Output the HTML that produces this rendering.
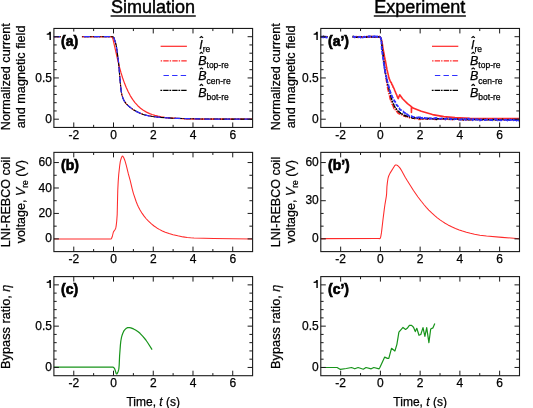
<!DOCTYPE html>
<html><head><meta charset="utf-8"><style>
html,body{margin:0;padding:0;background:#fff;overflow:hidden;}
svg{display:block;will-change:transform;font-family:"Liberation Sans",sans-serif;}
</style></head><body>
<svg width="533" height="408" viewBox="0 0 533 408">
<rect width="533" height="408" fill="#fff"/>
<path d="M53.90,36.70 L111.92,36.73 L112.32,37.20 L113.11,39.53 L117.88,60.92 L119.47,67.23 L121.06,72.91 L122.65,78.00 L124.64,83.59 L126.23,87.52 L128.21,91.84 L130.20,95.57 L132.59,99.39 L134.97,102.59 L137.75,105.68 L140.53,108.19 L143.31,110.24 L146.49,112.12 L149.67,113.61 L152.06,114.51 L154.84,115.38 L158.02,116.18 L161.20,116.82 L164.77,117.37 L168.35,117.80 L177.09,118.47 L187.03,118.85 L200.54,119.07 L252.60,119.20" fill="none" stroke="#ff2a2a" stroke-width="1.2" stroke-linejoin="round" />
<path d="M53.90,36.70 L111.49,36.70 L112.81,36.78 L113.47,36.96 L113.96,37.99 L115.44,42.49 L116.09,45.00 L116.59,47.66 L118.56,62.23 L120.04,79.84 L121.02,90.10 L121.85,94.64 L122.67,97.44 L123.65,99.82 L124.80,101.87 L126.28,103.82 L128.09,105.63 L131.38,108.35 L133.84,110.08 L137.13,111.84 L140.58,113.42 L143.21,114.42 L145.68,115.16 L148.80,115.82 L152.41,116.43 L156.19,116.92 L160.63,117.34 L173.12,118.22 L185.35,118.64 L205.73,119.02 L252.60,119.20" fill="none" stroke="#ff2a2a" stroke-width="1.1" stroke-dasharray="1.4 1.2 5.4 1.0" stroke-linejoin="round"  stroke-dashoffset="3"/>
<path d="M53.90,36.70 L111.49,36.70 L112.81,36.78 L113.47,36.96 L113.96,37.99 L115.44,42.49 L116.09,45.00 L116.59,47.66 L118.56,62.23 L120.04,79.84 L121.02,90.10 L121.85,94.64 L122.67,97.44 L123.65,99.82 L124.80,101.87 L126.28,103.82 L128.09,105.63 L131.38,108.35 L133.84,110.08 L137.13,111.84 L140.58,113.42 L143.21,114.42 L145.68,115.16 L148.80,115.82 L152.41,116.43 L156.19,116.92 L160.63,117.34 L173.12,118.22 L185.35,118.64 L205.73,119.02 L252.60,119.20" fill="none" stroke="#000" stroke-width="1.1" stroke-dasharray="1.8 1.0 5.4 0.8" stroke-linejoin="round" />
<path d="M53.90,36.70 L111.49,36.70 L112.81,36.78 L113.47,36.96 L113.96,37.99 L115.44,42.49 L116.09,45.00 L116.59,47.66 L118.56,62.23 L120.04,79.84 L121.02,90.10 L121.85,94.64 L122.67,97.44 L123.65,99.82 L124.80,101.87 L126.28,103.82 L128.09,105.63 L131.38,108.35 L133.84,110.08 L137.13,111.84 L140.58,113.42 L143.21,114.42 L145.68,115.16 L148.80,115.82 L152.41,116.43 L156.19,116.92 L160.63,117.34 L173.12,118.22 L185.35,118.64 L205.73,119.02 L252.60,119.20" fill="none" stroke="#3030ff" stroke-width="1.25" stroke-dasharray="6 4" stroke-linejoin="round" />
<path d="M53.90,238.90 L110.00,238.90 L110.59,238.97 L111.10,238.90 L111.46,238.52 L112.30,236.50 L113.32,232.25 L113.60,231.60 L114.96,229.76 L115.60,228.50 L115.94,227.17 L116.19,225.60 L116.71,221.22 L117.20,214.36 L117.75,190.76 L118.18,181.88 L118.72,174.55 L119.68,165.76 L120.29,161.69 L120.70,160.00 L121.54,157.44 L122.17,156.28 L122.50,156.10 L122.83,156.25 L123.53,157.30 L124.60,159.80 L125.15,161.35 L126.28,165.45 L128.36,173.97 L130.24,180.52 L132.25,189.08 L133.38,193.35 L136.04,201.25 L137.32,204.49 L138.45,207.00 L140.03,209.99 L142.15,213.42 L144.08,216.15 L146.19,218.75 L148.50,221.20 L151.42,223.88 L154.04,225.97 L156.85,227.93 L159.25,229.37 L162.35,230.96 L165.28,232.20 L169.06,233.52 L173.05,234.68 L177.80,235.83 L183.15,236.89 L187.20,237.48 L190.58,237.79 L193.95,237.98 L213.68,238.56 L232.79,238.83 L252.60,238.90" fill="none" stroke="#ff2a2a" stroke-width="1.05" stroke-linejoin="round" />
<path d="M53.90,367.20 L113.20,367.20 L113.87,367.68 L114.50,368.50 L115.04,369.84 L116.07,373.28 L116.33,373.80 L116.60,374.00 L116.92,373.86 L117.60,372.85 L118.23,371.26 L118.62,369.94 L118.90,368.33 L119.19,365.05 L119.59,355.94 L120.39,345.16 L120.83,341.00 L121.50,337.40 L122.11,335.20 L122.81,333.19 L123.63,331.44 L124.26,330.44 L125.15,329.38 L126.35,328.32 L127.01,327.93 L127.73,327.65 L128.50,327.50 L129.58,327.55 L130.81,327.83 L133.51,328.93 L135.54,330.03 L137.40,331.20 L138.48,331.98 L140.00,333.29 L142.86,336.30 L145.86,340.00 L147.73,342.73 L152.10,349.60" fill="none" stroke="#17941a" stroke-width="1.2" stroke-linejoin="round" />
<path d="M320.80,36.90 L321.37,36.97 L322.80,36.68 L323.03,36.79 L323.30,36.65 L323.92,37.24 L324.27,36.78 L324.66,36.74 L325.07,37.02 L325.99,36.93 L326.48,36.67 L327.55,37.07 L328.11,36.56 L328.70,36.79 L329.32,36.42 L329.95,36.58 L330.61,36.44 L331.28,36.84 L331.97,36.58 L332.68,36.97 L333.41,36.94 L334.16,36.85 L334.91,36.27 L335.69,36.77 L336.48,36.89 L337.28,36.93 L338.09,36.52 L338.92,36.78 L339.75,36.66 L340.60,36.70 L341.45,37.17 L342.31,36.70 L344.06,37.12 L344.94,36.75 L346.71,36.93 L347.61,36.92 L348.50,36.59 L350.30,37.24 L351.20,36.51 L352.10,37.11 L353.89,36.74 L354.78,37.40 L355.66,37.09 L356.54,36.60 L357.42,36.92 L358.29,37.04 L359.15,36.85 L360.00,37.07 L360.85,36.88 L362.51,37.26 L363.32,36.73 L364.12,36.95 L364.91,36.78 L365.69,36.93 L366.44,36.60 L367.92,36.85 L368.63,37.12 L369.32,37.19 L369.99,36.57 L370.65,36.70 L371.28,37.06 L371.90,36.40 L372.49,36.78 L373.05,36.88 L373.60,37.21 L374.61,36.82 L375.53,36.84 L375.94,37.28 L376.33,36.79 L376.68,36.82 L377.01,36.99 L377.57,36.85 L377.80,36.62 L378.69,36.83 L379.29,36.66 L379.80,37.19 L380.35,37.56 L380.80,38.13 L381.20,39.17 L381.41,39.50 L381.90,41.85 L382.03,42.14 L382.16,43.33 L382.42,44.15 L382.90,48.09 L383.01,48.01 L383.30,50.12 L384.17,54.30 L384.58,56.99 L385.20,59.97 L385.36,60.33 L385.67,62.55 L385.82,62.72 L385.96,64.23 L386.10,64.31 L386.23,65.62 L386.35,65.86 L386.47,66.86 L386.57,67.22 L386.65,67.26 L386.91,69.40 L387.43,71.28 L387.57,72.42 L387.72,72.67 L388.41,75.38 L388.60,76.75 L388.79,77.11 L388.99,78.09 L390.22,81.13 L390.90,82.32 L391.25,82.67 L391.60,83.44 L391.95,84.71 L392.30,84.83 L392.58,85.33 L393.15,87.22 L393.44,87.16 L393.73,88.14 L394.31,89.11 L394.60,90.40 L395.44,91.99 L395.70,92.91 L396.00,93.36 L396.28,94.13 L396.84,95.17 L397.11,96.46 L397.38,96.64 L397.65,97.48 L398.20,98.59 L399.70,94.80 L402.60,98.70 L407.50,103.60 L411.40,106.60 L411.40,112.50 L411.60,106.80 L413.00,108.00 L421.30,111.30 L432.50,114.60 L443.80,116.60 L455.00,117.60 L470.00,118.20 L519.50,118.60" fill="none" stroke="#ff2a2a" stroke-width="1.6" stroke-linejoin="round" />
<path d="M320.80,36.75 L321.37,37.09 L321.93,36.81 L322.80,36.85 L323.03,36.91 L323.30,37.25 L323.92,37.01 L324.66,36.49 L325.07,37.18 L325.52,37.19 L325.99,36.86 L326.48,37.06 L328.11,37.18 L328.70,36.76 L329.32,37.35 L329.95,36.53 L330.61,37.16 L331.28,37.05 L331.97,37.16 L332.68,37.46 L333.41,37.35 L334.16,36.56 L334.91,36.39 L335.69,37.15 L336.48,36.60 L338.09,37.15 L338.92,36.41 L339.75,36.27 L340.60,36.98 L342.31,36.83 L343.18,36.91 L344.94,36.45 L345.82,36.85 L347.61,36.41 L348.50,37.05 L349.40,36.88 L350.30,37.02 L351.20,36.60 L352.10,36.70 L352.99,36.60 L353.89,36.63 L354.78,36.96 L355.66,36.67 L356.54,37.01 L357.42,37.00 L358.29,37.51 L359.15,36.48 L360.00,37.17 L360.85,36.87 L361.68,36.90 L362.51,36.47 L364.12,37.12 L364.91,36.88 L365.69,36.92 L366.44,36.81 L367.19,37.25 L367.92,36.89 L368.63,36.24 L369.32,36.69 L370.65,35.92 L371.28,36.74 L371.90,37.30 L373.05,36.55 L373.60,36.62 L374.12,37.24 L374.61,36.95 L375.53,36.88 L375.94,36.91 L376.33,37.14 L377.01,36.96 L377.30,36.59 L377.57,37.05 L377.80,36.69 L378.70,37.16 L379.30,36.38 L379.80,36.86 L380.68,37.72 L381.00,39.52 L381.15,39.98 L381.28,40.04 L381.48,41.73 L381.55,41.59 L381.62,43.19 L382.18,48.82 L382.25,48.78 L382.40,49.74 L382.49,51.48 L383.68,61.22 L383.75,62.53 L383.97,63.68 L384.13,65.67 L384.50,68.01 L384.56,67.88 L385.12,72.46 L385.23,72.68 L385.74,75.78 L385.99,78.38 L386.12,78.53 L386.48,81.09 L386.60,81.35 L387.26,86.86 L387.40,86.94 L387.57,87.36 L387.78,89.18 L387.90,89.58 L388.03,89.60 L388.48,91.95 L389.80,97.10 L390.22,99.22 L390.67,100.17 L390.90,100.37 L391.13,101.69 L391.36,101.66 L391.83,103.75 L392.06,104.28 L392.63,104.79 L392.96,105.86 L393.30,106.43 L394.00,108.56 L394.36,108.54 L394.73,108.81 L395.11,109.25 L395.50,110.12 L395.91,110.59 L396.33,110.79 L396.77,111.65 L397.22,111.72 L397.70,112.83 L398.22,113.24 L398.77,113.64 L399.35,113.55 L399.96,114.19 L400.58,114.33 L401.85,114.86 L402.49,114.84 L403.13,115.06 L403.75,115.97 L404.36,115.91 L405.50,116.70 L406.25,116.16 L407.62,117.18 L408.28,117.43 L408.97,117.36 L409.70,117.95 L410.50,117.86 L411.10,117.55 L411.75,117.74 L412.46,118.36 L413.19,118.36 L413.95,117.75 L414.72,118.82 L415.49,118.68 L416.26,118.98 L417.00,118.54 L417.71,118.63 L418.37,118.44 L418.98,119.59 L419.53,118.81 L420.00,119.38 L420.68,118.74 L421.19,118.98 L422.00,118.43 L422.53,119.23 L422.86,118.56 L423.21,119.27 L423.60,119.05 L424.02,118.64 L424.48,118.81 L425.47,118.96 L426.58,118.74 L427.18,118.91 L427.80,118.70 L428.44,118.63 L429.79,119.30 L430.50,118.59 L431.22,119.06 L432.73,118.79 L433.50,119.35 L434.30,118.94 L435.10,119.56 L435.92,118.89 L436.75,119.25 L438.44,118.93 L439.30,119.35 L440.16,119.14 L441.03,119.38 L442.79,118.89 L443.67,119.20 L444.56,119.26 L445.44,119.54 L446.33,119.00 L447.21,119.27 L448.09,118.78 L448.97,119.50 L449.84,118.99 L450.70,118.79 L451.56,119.32 L452.41,119.69 L453.25,118.91 L454.90,119.17 L455.70,119.06 L456.50,119.52 L457.27,119.18 L458.03,119.22 L458.78,119.62 L459.50,119.23 L460.21,119.59 L460.90,119.18 L462.20,118.94 L462.82,120.06 L463.42,119.41 L463.98,119.59 L464.53,119.51 L465.52,119.55 L465.98,120.12 L466.40,119.24 L466.79,119.09 L467.14,119.26 L467.47,119.16 L467.75,119.79 L468.00,119.82 L468.86,119.30 L469.43,119.18 L470.00,119.49 L470.57,120.02 L471.14,118.76 L472.00,119.76 L472.25,119.28 L472.54,119.91 L472.86,119.28 L473.22,119.51 L473.62,119.15 L474.05,119.31 L474.50,120.02 L474.99,119.85 L475.51,119.48 L476.06,119.34 L476.63,119.03 L477.23,119.48 L477.86,119.59 L479.18,119.57 L479.87,119.26 L480.59,119.58 L481.32,119.59 L482.07,119.99 L482.84,120.16 L483.63,119.56 L484.42,119.37 L485.24,119.58 L486.06,119.42 L486.90,119.38 L487.75,119.58 L488.60,119.29 L489.46,119.78 L490.34,119.57 L491.21,119.68 L493.86,119.32 L494.75,119.53 L495.64,119.44 L496.52,119.67 L497.41,119.60 L498.29,119.19 L499.16,119.62 L500.04,119.20 L501.75,119.51 L502.60,118.98 L503.44,119.63 L506.66,119.49 L507.43,119.31 L508.18,119.52 L508.91,119.43 L509.63,119.63 L510.32,119.24 L510.99,119.67 L512.87,119.47 L513.44,119.77 L513.99,119.10 L514.51,119.74 L515.88,119.71 L516.28,119.40 L516.64,119.52 L516.96,119.79 L517.50,119.66 L518.36,119.15 L518.93,119.76 L519.50,119.95" fill="none" stroke="#ff2a2a" stroke-width="1.5" stroke-dasharray="1.4 1.2 5.4 1.0" stroke-linejoin="round" />
<path d="M320.80,37.20 L321.37,36.97 L321.93,36.43 L322.80,37.18 L323.03,36.86 L323.30,36.14 L323.59,37.01 L323.92,36.45 L324.27,36.51 L324.66,36.71 L325.07,37.28 L325.52,36.79 L325.99,36.98 L326.48,37.42 L327.00,37.38 L327.55,36.87 L328.11,36.83 L328.70,36.52 L329.32,36.69 L329.95,37.03 L331.28,36.93 L331.97,37.20 L332.68,36.67 L334.16,37.12 L334.91,37.08 L335.69,37.22 L337.28,36.81 L338.09,37.01 L338.92,36.60 L339.75,36.41 L340.60,37.07 L341.45,36.88 L342.31,36.99 L343.18,36.39 L344.06,36.79 L345.82,36.64 L346.71,36.22 L347.61,36.80 L348.50,37.17 L349.40,37.01 L350.30,36.72 L352.10,37.13 L352.99,36.07 L353.89,36.86 L354.78,37.06 L355.66,37.10 L356.54,37.41 L358.29,36.99 L359.15,36.99 L360.00,37.14 L360.85,36.74 L361.68,36.89 L363.32,37.49 L364.12,36.85 L365.69,36.96 L366.44,37.30 L367.19,36.89 L367.92,37.34 L368.63,36.61 L369.32,36.84 L369.99,36.84 L370.65,37.14 L371.28,37.21 L371.90,36.45 L372.49,36.63 L373.05,37.00 L374.12,36.44 L374.61,37.21 L375.08,37.05 L375.53,37.05 L375.94,36.76 L376.33,37.21 L376.68,36.83 L377.01,37.23 L377.30,36.63 L377.57,36.64 L377.80,36.96 L378.70,36.62 L379.30,36.97 L379.80,36.98 L380.30,37.11 L381.00,38.89 L381.41,40.75 L381.90,45.46 L382.39,48.45 L382.56,50.47 L383.46,57.15 L383.56,58.58 L383.74,59.51 L383.98,61.85 L384.05,61.69 L384.27,64.78 L384.46,65.39 L384.60,67.06 L384.68,66.96 L384.77,67.56 L385.40,72.56 L385.63,73.77 L385.75,73.70 L385.86,75.22 L386.20,77.20 L386.47,77.92 L386.60,79.23 L387.16,81.66 L387.30,81.71 L387.45,83.41 L387.60,83.77 L387.90,85.59 L388.21,85.76 L388.85,88.88 L389.01,88.90 L389.18,90.25 L389.35,90.34 L389.53,91.54 L390.41,94.54 L390.58,94.89 L391.11,98.02 L391.49,98.99 L391.69,99.25 L391.89,100.54 L392.10,100.74 L392.80,102.63 L393.40,103.95 L393.72,104.33 L394.04,105.20 L394.37,106.64 L394.71,106.56 L395.85,108.60 L396.26,108.62 L397.15,110.30 L398.10,111.06 L398.60,111.96 L399.11,111.75 L399.64,112.43 L400.20,112.68 L400.77,113.69 L401.36,113.06 L401.97,113.83 L402.60,114.24 L403.16,114.90 L403.76,115.18 L404.37,115.70 L405.01,115.08 L405.67,116.04 L406.34,115.98 L407.02,116.11 L407.71,116.70 L409.09,116.34 L409.78,117.05 L410.45,116.89 L411.77,117.77 L412.40,117.89 L413.14,118.42 L414.66,117.70 L415.42,118.01 L416.92,117.99 L417.63,118.52 L418.93,117.86 L419.50,118.68 L420.00,118.47 L420.92,118.64 L422.00,118.57 L422.25,118.73 L422.53,118.56 L422.86,118.93 L423.21,118.69 L424.02,118.70 L424.48,118.15 L424.96,118.55 L425.47,118.53 L426.01,118.68 L426.58,118.22 L427.18,119.13 L428.44,118.31 L429.10,118.17 L429.79,118.61 L430.50,118.68 L431.22,118.51 L431.97,118.77 L432.73,118.56 L433.50,118.94 L434.30,118.57 L435.92,119.11 L436.75,119.61 L437.59,118.55 L438.44,118.73 L439.30,118.63 L440.16,119.14 L441.03,118.58 L442.79,118.95 L443.67,118.68 L444.56,118.70 L445.44,118.87 L446.33,118.40 L448.97,119.12 L449.84,119.04 L450.70,118.58 L452.41,119.39 L453.25,119.33 L454.90,118.93 L455.70,119.40 L456.50,119.06 L457.27,118.89 L458.03,119.02 L458.78,119.71 L459.50,119.36 L460.21,119.65 L460.90,119.17 L461.56,119.61 L462.20,119.16 L462.82,119.31 L463.42,120.11 L464.53,119.24 L465.52,119.51 L465.98,119.78 L466.79,118.91 L467.14,119.36 L467.75,119.49 L468.00,119.86 L469.16,119.58 L470.00,119.74 L470.84,119.18 L472.00,119.77 L472.25,120.14 L472.54,119.75 L472.86,119.59 L473.22,119.57 L473.62,120.06 L474.05,119.25 L474.99,119.67 L475.51,119.76 L476.06,119.41 L476.63,119.63 L477.23,119.46 L477.86,119.58 L478.51,119.51 L479.18,119.21 L480.59,119.83 L481.32,119.28 L482.84,119.78 L483.63,119.26 L484.42,119.64 L485.24,119.27 L486.06,119.94 L486.90,120.30 L487.75,120.21 L488.60,119.55 L489.46,119.84 L490.34,119.66 L491.21,119.66 L492.09,120.10 L492.98,119.24 L493.86,119.96 L494.75,119.64 L495.64,120.08 L497.41,119.46 L498.29,119.75 L499.16,119.90 L500.04,119.69 L500.90,119.83 L501.75,119.54 L502.60,119.06 L503.44,119.97 L505.87,119.74 L506.66,120.03 L507.43,119.59 L508.18,119.52 L508.91,119.68 L509.63,120.10 L510.32,119.33 L510.99,120.11 L511.64,119.56 L512.27,119.43 L512.87,120.14 L513.99,119.38 L515.00,120.05 L515.45,120.13 L515.88,119.65 L516.28,119.90 L516.64,120.00 L516.96,119.59 L517.25,119.89 L517.50,119.78 L518.66,119.63 L519.50,119.65" fill="none" stroke="#000" stroke-width="1.3" stroke-dasharray="1.8 1.0 5.4 0.8" stroke-linejoin="round" />
<path d="M320.80,36.92 L321.37,36.91 L321.93,36.70 L322.80,36.75 L323.03,37.29 L323.30,36.97 L323.59,37.21 L323.92,37.32 L324.27,37.11 L324.66,37.69 L325.07,36.61 L325.52,37.18 L325.99,36.79 L326.48,37.55 L327.00,37.50 L327.55,36.22 L328.11,36.56 L328.70,37.13 L329.95,37.16 L330.61,36.88 L331.97,37.13 L332.68,36.87 L333.41,37.26 L334.16,36.11 L334.91,37.12 L335.69,36.54 L336.48,37.24 L337.28,36.82 L338.09,36.59 L338.92,37.03 L339.75,36.58 L340.60,36.58 L341.45,36.35 L342.31,36.89 L344.06,37.26 L344.94,36.85 L345.82,37.27 L346.71,36.91 L347.61,36.87 L349.40,37.27 L350.30,36.78 L352.99,36.93 L353.89,36.58 L354.78,37.26 L355.66,36.76 L356.54,37.06 L357.42,36.61 L358.29,37.03 L359.15,37.04 L360.00,36.75 L360.85,37.61 L361.68,37.03 L362.51,37.52 L363.32,37.24 L364.12,36.67 L364.91,36.77 L365.69,37.05 L367.92,36.80 L368.63,36.27 L369.32,36.82 L369.99,36.12 L370.65,37.03 L371.28,36.65 L371.90,36.65 L373.05,37.00 L373.60,36.40 L374.12,36.29 L374.61,36.53 L375.08,36.19 L375.53,36.56 L375.94,37.46 L376.33,36.53 L376.68,37.13 L377.01,36.42 L377.30,37.00 L377.57,36.79 L378.70,37.03 L379.30,37.38 L379.80,36.97 L380.68,37.73 L381.00,39.20 L381.12,39.37 L381.31,40.63 L381.39,41.94 L381.46,41.39 L381.78,49.22 L381.82,49.39 L381.86,49.15 L382.07,51.59 L382.19,51.69 L382.39,53.66 L382.56,54.19 L382.77,55.75 L382.88,55.98 L382.99,57.81 L383.11,58.13 L383.35,60.65 L383.47,61.24 L383.59,61.25 L383.82,63.65 L383.93,63.74 L384.14,65.38 L384.23,65.50 L384.31,67.16 L384.39,66.33 L384.67,69.32 L384.95,71.15 L385.05,70.45 L385.15,71.70 L385.54,73.51 L385.69,73.76 L386.00,75.74 L386.35,76.69 L386.53,78.40 L386.71,79.26 L386.90,78.71 L387.28,81.66 L387.47,81.84 L388.04,83.65 L388.41,85.09 L388.59,86.22 L388.76,86.48 L389.10,87.42 L389.25,88.37 L389.40,88.59 L389.89,90.88 L391.28,94.42 L391.53,95.42 L391.80,95.42 L392.10,96.95 L392.72,97.56 L393.37,98.89 L393.72,99.83 L394.07,100.17 L394.43,101.46 L395.15,101.50 L395.50,102.63 L395.86,102.78 L396.60,105.03 L396.99,105.47 L397.39,105.35 L397.81,106.12 L398.24,107.57 L398.70,107.61 L399.17,108.03 L400.15,109.94 L401.20,110.15 L402.30,111.31 L402.87,111.35 L403.44,111.66 L404.02,112.49 L404.60,112.57 L405.18,113.28 L405.76,113.73 L406.35,114.91 L406.95,114.16 L407.55,114.78 L408.17,115.11 L409.43,116.17 L410.07,115.92 L410.73,116.07 L411.40,116.03 L412.03,116.47 L412.70,117.16 L413.41,117.15 L414.14,116.92 L416.35,117.79 L417.06,117.50 L417.75,117.69 L418.39,117.21 L418.99,117.50 L419.53,118.52 L420.00,117.23 L420.67,117.93 L421.19,118.13 L422.00,117.93 L422.25,117.78 L422.53,118.05 L423.21,118.07 L423.60,117.45 L424.02,118.07 L424.48,117.84 L424.96,117.96 L425.47,118.24 L426.58,118.51 L427.18,118.04 L427.79,118.56 L429.79,118.78 L430.50,118.26 L431.22,118.28 L431.97,118.65 L432.73,117.90 L433.50,118.48 L434.30,118.24 L435.10,118.32 L435.92,117.87 L438.44,118.86 L439.30,118.93 L440.16,118.58 L441.03,118.56 L441.91,118.37 L442.79,118.82 L443.67,118.62 L445.44,119.38 L447.21,118.29 L448.09,118.54 L448.97,118.36 L449.84,118.48 L450.70,119.38 L451.56,119.03 L452.41,118.44 L453.25,119.23 L454.08,119.46 L454.90,118.92 L455.70,118.83 L458.78,119.58 L460.90,119.70 L461.56,119.48 L462.21,118.73 L462.82,119.24 L463.42,119.41 L463.99,119.19 L464.53,119.65 L465.04,119.23 L465.52,119.04 L465.98,119.88 L466.79,119.48 L467.14,119.74 L467.47,119.80 L467.75,119.55 L468.00,118.58 L468.86,119.23 L469.43,119.33 L470.00,119.16 L471.14,119.93 L472.25,119.13 L472.54,120.24 L472.86,119.37 L473.22,119.10 L473.62,119.62 L474.05,119.69 L474.50,119.30 L474.99,119.83 L475.51,119.39 L476.06,119.24 L476.63,119.63 L477.23,119.84 L477.86,119.36 L478.51,119.70 L479.18,119.56 L479.87,120.59 L480.59,119.36 L481.32,120.10 L482.07,119.60 L482.84,119.59 L483.63,119.89 L485.24,120.10 L486.90,119.46 L487.75,119.49 L488.60,119.87 L489.46,119.90 L490.34,120.19 L491.21,119.86 L492.98,120.26 L494.75,119.23 L495.64,119.35 L496.52,119.26 L497.41,120.33 L498.29,119.49 L499.16,120.23 L500.04,120.01 L500.90,120.41 L501.75,120.17 L502.60,119.79 L503.44,119.77 L505.08,119.92 L505.87,119.68 L506.66,119.86 L507.43,120.44 L508.18,119.29 L508.91,119.98 L509.63,119.58 L510.32,119.97 L510.99,120.21 L511.64,119.90 L512.27,120.20 L512.87,119.38 L513.44,120.33 L513.99,119.73 L514.51,120.17 L515.00,120.02 L515.45,119.05 L515.88,119.70 L516.64,120.51 L516.96,120.07 L517.25,120.07 L517.50,119.49 L518.36,120.49 L518.93,120.63 L519.50,120.01" fill="none" stroke="#3030ff" stroke-width="1.8" stroke-dasharray="4 1.5" stroke-linejoin="round" />
<path d="M320.80,238.60 L377.02,238.50 L378.50,238.50 L379.31,238.61 L380.00,238.50 L380.30,238.13 L380.72,236.86 L381.47,232.65 L382.92,220.18 L384.46,207.94 L385.02,204.04 L386.33,196.37 L386.62,193.59 L386.93,186.61 L387.46,181.85 L388.01,178.48 L388.70,176.00 L389.92,173.36 L394.51,165.95 L395.35,165.08 L395.80,164.90 L396.33,164.91 L396.89,165.12 L397.45,165.47 L399.20,167.10 L400.23,168.38 L401.68,170.69 L405.20,177.16 L407.52,181.09 L413.48,190.50 L418.00,197.00 L421.26,201.27 L424.26,204.97 L426.50,207.55 L428.82,210.02 L431.72,212.86 L434.74,215.61 L437.34,217.80 L440.03,219.87 L442.24,221.43 L445.09,223.23 L448.03,224.91 L451.68,226.75 L455.42,228.43 L459.24,229.94 L462.45,231.06 L466.40,232.25 L470.44,233.28 L474.53,234.19 L479.87,235.16 L486.53,235.97 L502.05,237.37 L519.50,238.70" fill="none" stroke="#ff2a2a" stroke-width="1.05" stroke-linejoin="round" />
<path d="M320.80,367.50 L337.10,367.50 L340.40,369.40 L346.30,368.50 L351.50,367.50 L354.80,368.80 L358.10,367.50 L363.30,369.20 L366.00,367.50 L371.20,368.80 L373.80,367.50 L379.10,368.80 L380.00,367.20 L384.70,357.10 L387.40,358.40 L388.80,358.40 L391.50,348.30 L394.90,351.00 L396.90,344.30 L398.90,332.10 L403.00,327.40 L405.60,329.40 L407.20,328.30 L409.40,325.40 L411.60,325.40 L413.50,327.20 L415.30,331.60 L416.80,328.30 L419.00,335.30 L420.80,334.50 L423.00,327.60 L424.90,336.40 L426.70,327.60 L428.90,342.60 L430.70,329.00 L432.90,327.90 L434.80,323.50" fill="none" stroke="#17941a" stroke-width="1.2" stroke-linejoin="round" />
<rect x="53.90" y="28.45" width="198.70" height="99.00" fill="none" stroke="#1a1a1a" stroke-width="1.1"/>
<line x1="73.77" y1="127.45" x2="73.77" y2="122.45" stroke="#1a1a1a" stroke-width="1.0" />
<line x1="73.77" y1="28.45" x2="73.77" y2="33.45" stroke="#1a1a1a" stroke-width="1.0" />
<line x1="93.64" y1="127.45" x2="93.64" y2="124.85" stroke="#1a1a1a" stroke-width="1.0" />
<line x1="93.64" y1="28.45" x2="93.64" y2="31.05" stroke="#1a1a1a" stroke-width="1.0" />
<line x1="113.51" y1="127.45" x2="113.51" y2="122.45" stroke="#1a1a1a" stroke-width="1.0" />
<line x1="113.51" y1="28.45" x2="113.51" y2="33.45" stroke="#1a1a1a" stroke-width="1.0" />
<line x1="133.38" y1="127.45" x2="133.38" y2="124.85" stroke="#1a1a1a" stroke-width="1.0" />
<line x1="133.38" y1="28.45" x2="133.38" y2="31.05" stroke="#1a1a1a" stroke-width="1.0" />
<line x1="153.25" y1="127.45" x2="153.25" y2="122.45" stroke="#1a1a1a" stroke-width="1.0" />
<line x1="153.25" y1="28.45" x2="153.25" y2="33.45" stroke="#1a1a1a" stroke-width="1.0" />
<line x1="173.12" y1="127.45" x2="173.12" y2="124.85" stroke="#1a1a1a" stroke-width="1.0" />
<line x1="173.12" y1="28.45" x2="173.12" y2="31.05" stroke="#1a1a1a" stroke-width="1.0" />
<line x1="192.99" y1="127.45" x2="192.99" y2="122.45" stroke="#1a1a1a" stroke-width="1.0" />
<line x1="192.99" y1="28.45" x2="192.99" y2="33.45" stroke="#1a1a1a" stroke-width="1.0" />
<line x1="212.86" y1="127.45" x2="212.86" y2="124.85" stroke="#1a1a1a" stroke-width="1.0" />
<line x1="212.86" y1="28.45" x2="212.86" y2="31.05" stroke="#1a1a1a" stroke-width="1.0" />
<line x1="232.73" y1="127.45" x2="232.73" y2="122.45" stroke="#1a1a1a" stroke-width="1.0" />
<line x1="232.73" y1="28.45" x2="232.73" y2="33.45" stroke="#1a1a1a" stroke-width="1.0" />
<text x="73.77" y="138.85" font-size="12" text-anchor="middle" font-weight="normal" stroke="#000" stroke-width="0.25" >-2</text>
<text x="113.51" y="138.85" font-size="12" text-anchor="middle" font-weight="normal" stroke="#000" stroke-width="0.25" >0</text>
<text x="153.25" y="138.85" font-size="12" text-anchor="middle" font-weight="normal" stroke="#000" stroke-width="0.25" >2</text>
<text x="192.99" y="138.85" font-size="12" text-anchor="middle" font-weight="normal" stroke="#000" stroke-width="0.25" >4</text>
<text x="232.73" y="138.85" font-size="12" text-anchor="middle" font-weight="normal" stroke="#000" stroke-width="0.25" >6</text>
<line x1="53.90" y1="119.20" x2="58.90" y2="119.20" stroke="#1a1a1a" stroke-width="1.0" />
<line x1="252.60" y1="119.20" x2="247.60" y2="119.20" stroke="#1a1a1a" stroke-width="1.0" />
<line x1="53.90" y1="77.95" x2="58.90" y2="77.95" stroke="#1a1a1a" stroke-width="1.0" />
<line x1="252.60" y1="77.95" x2="247.60" y2="77.95" stroke="#1a1a1a" stroke-width="1.0" />
<line x1="53.90" y1="36.70" x2="58.90" y2="36.70" stroke="#1a1a1a" stroke-width="1.0" />
<line x1="252.60" y1="36.70" x2="247.60" y2="36.70" stroke="#1a1a1a" stroke-width="1.0" />
<line x1="53.90" y1="110.95" x2="56.70" y2="110.95" stroke="#1a1a1a" stroke-width="1.0" />
<line x1="252.60" y1="110.95" x2="249.40" y2="110.95" stroke="#1a1a1a" stroke-width="1.0" />
<line x1="53.90" y1="102.70" x2="56.70" y2="102.70" stroke="#1a1a1a" stroke-width="1.0" />
<line x1="252.60" y1="102.70" x2="249.40" y2="102.70" stroke="#1a1a1a" stroke-width="1.0" />
<line x1="53.90" y1="94.45" x2="56.70" y2="94.45" stroke="#1a1a1a" stroke-width="1.0" />
<line x1="252.60" y1="94.45" x2="249.40" y2="94.45" stroke="#1a1a1a" stroke-width="1.0" />
<line x1="53.90" y1="86.20" x2="56.70" y2="86.20" stroke="#1a1a1a" stroke-width="1.0" />
<line x1="252.60" y1="86.20" x2="249.40" y2="86.20" stroke="#1a1a1a" stroke-width="1.0" />
<line x1="53.90" y1="69.70" x2="56.70" y2="69.70" stroke="#1a1a1a" stroke-width="1.0" />
<line x1="252.60" y1="69.70" x2="249.40" y2="69.70" stroke="#1a1a1a" stroke-width="1.0" />
<line x1="53.90" y1="61.45" x2="56.70" y2="61.45" stroke="#1a1a1a" stroke-width="1.0" />
<line x1="252.60" y1="61.45" x2="249.40" y2="61.45" stroke="#1a1a1a" stroke-width="1.0" />
<line x1="53.90" y1="53.20" x2="56.70" y2="53.20" stroke="#1a1a1a" stroke-width="1.0" />
<line x1="252.60" y1="53.20" x2="249.40" y2="53.20" stroke="#1a1a1a" stroke-width="1.0" />
<line x1="53.90" y1="44.95" x2="56.70" y2="44.95" stroke="#1a1a1a" stroke-width="1.0" />
<line x1="252.60" y1="44.95" x2="249.40" y2="44.95" stroke="#1a1a1a" stroke-width="1.0" />
<text x="51.90" y="122.80" font-size="12" text-anchor="end" font-weight="normal" stroke="#000" stroke-width="0.25" >0</text>
<text x="51.90" y="81.55" font-size="12" text-anchor="end" font-weight="normal" stroke="#000" stroke-width="0.25" >0.5</text>
<path d="M49.45,31.80 L50.90,31.80 L50.90,39.90 L49.45,39.90 L49.45,34.70 Q48.30,34.80 46.70,34.80 L46.70,33.70 Q48.90,33.60 49.45,31.80 Z" fill="#000"/>
<rect x="60.90" y="31.55" width="21.00" height="18" fill="#fff"/>
<text x="61.10" y="45.85" font-size="14" text-anchor="start" font-weight="bold" stroke="#000" stroke-width="0.65" >(a)</text>
<rect x="53.90" y="152.37" width="198.70" height="99.23" fill="none" stroke="#1a1a1a" stroke-width="1.1"/>
<line x1="73.77" y1="251.60" x2="73.77" y2="246.60" stroke="#1a1a1a" stroke-width="1.0" />
<line x1="73.77" y1="152.37" x2="73.77" y2="157.37" stroke="#1a1a1a" stroke-width="1.0" />
<line x1="93.64" y1="251.60" x2="93.64" y2="249.00" stroke="#1a1a1a" stroke-width="1.0" />
<line x1="93.64" y1="152.37" x2="93.64" y2="154.97" stroke="#1a1a1a" stroke-width="1.0" />
<line x1="113.51" y1="251.60" x2="113.51" y2="246.60" stroke="#1a1a1a" stroke-width="1.0" />
<line x1="113.51" y1="152.37" x2="113.51" y2="157.37" stroke="#1a1a1a" stroke-width="1.0" />
<line x1="133.38" y1="251.60" x2="133.38" y2="249.00" stroke="#1a1a1a" stroke-width="1.0" />
<line x1="133.38" y1="152.37" x2="133.38" y2="154.97" stroke="#1a1a1a" stroke-width="1.0" />
<line x1="153.25" y1="251.60" x2="153.25" y2="246.60" stroke="#1a1a1a" stroke-width="1.0" />
<line x1="153.25" y1="152.37" x2="153.25" y2="157.37" stroke="#1a1a1a" stroke-width="1.0" />
<line x1="173.12" y1="251.60" x2="173.12" y2="249.00" stroke="#1a1a1a" stroke-width="1.0" />
<line x1="173.12" y1="152.37" x2="173.12" y2="154.97" stroke="#1a1a1a" stroke-width="1.0" />
<line x1="192.99" y1="251.60" x2="192.99" y2="246.60" stroke="#1a1a1a" stroke-width="1.0" />
<line x1="192.99" y1="152.37" x2="192.99" y2="157.37" stroke="#1a1a1a" stroke-width="1.0" />
<line x1="212.86" y1="251.60" x2="212.86" y2="249.00" stroke="#1a1a1a" stroke-width="1.0" />
<line x1="212.86" y1="152.37" x2="212.86" y2="154.97" stroke="#1a1a1a" stroke-width="1.0" />
<line x1="232.73" y1="251.60" x2="232.73" y2="246.60" stroke="#1a1a1a" stroke-width="1.0" />
<line x1="232.73" y1="152.37" x2="232.73" y2="157.37" stroke="#1a1a1a" stroke-width="1.0" />
<text x="73.77" y="263.00" font-size="12" text-anchor="middle" font-weight="normal" stroke="#000" stroke-width="0.25" >-2</text>
<text x="113.51" y="263.00" font-size="12" text-anchor="middle" font-weight="normal" stroke="#000" stroke-width="0.25" >0</text>
<text x="153.25" y="263.00" font-size="12" text-anchor="middle" font-weight="normal" stroke="#000" stroke-width="0.25" >2</text>
<text x="192.99" y="263.00" font-size="12" text-anchor="middle" font-weight="normal" stroke="#000" stroke-width="0.25" >4</text>
<text x="232.73" y="263.00" font-size="12" text-anchor="middle" font-weight="normal" stroke="#000" stroke-width="0.25" >6</text>
<line x1="53.90" y1="238.88" x2="58.90" y2="238.88" stroke="#1a1a1a" stroke-width="1.0" />
<line x1="252.60" y1="238.88" x2="247.60" y2="238.88" stroke="#1a1a1a" stroke-width="1.0" />
<line x1="53.90" y1="213.43" x2="58.90" y2="213.43" stroke="#1a1a1a" stroke-width="1.0" />
<line x1="252.60" y1="213.43" x2="247.60" y2="213.43" stroke="#1a1a1a" stroke-width="1.0" />
<line x1="53.90" y1="187.99" x2="58.90" y2="187.99" stroke="#1a1a1a" stroke-width="1.0" />
<line x1="252.60" y1="187.99" x2="247.60" y2="187.99" stroke="#1a1a1a" stroke-width="1.0" />
<line x1="53.90" y1="162.55" x2="58.90" y2="162.55" stroke="#1a1a1a" stroke-width="1.0" />
<line x1="252.60" y1="162.55" x2="247.60" y2="162.55" stroke="#1a1a1a" stroke-width="1.0" />
<line x1="53.90" y1="226.16" x2="56.70" y2="226.16" stroke="#1a1a1a" stroke-width="1.0" />
<line x1="252.60" y1="226.16" x2="249.40" y2="226.16" stroke="#1a1a1a" stroke-width="1.0" />
<line x1="53.90" y1="200.71" x2="56.70" y2="200.71" stroke="#1a1a1a" stroke-width="1.0" />
<line x1="252.60" y1="200.71" x2="249.40" y2="200.71" stroke="#1a1a1a" stroke-width="1.0" />
<line x1="53.90" y1="175.27" x2="56.70" y2="175.27" stroke="#1a1a1a" stroke-width="1.0" />
<line x1="252.60" y1="175.27" x2="249.40" y2="175.27" stroke="#1a1a1a" stroke-width="1.0" />
<text x="51.90" y="242.48" font-size="12" text-anchor="end" font-weight="normal" stroke="#000" stroke-width="0.25" >0</text>
<text x="51.90" y="217.03" font-size="12" text-anchor="end" font-weight="normal" stroke="#000" stroke-width="0.25" >20</text>
<text x="51.90" y="191.59" font-size="12" text-anchor="end" font-weight="normal" stroke="#000" stroke-width="0.25" >40</text>
<text x="51.90" y="166.15" font-size="12" text-anchor="end" font-weight="normal" stroke="#000" stroke-width="0.25" >60</text>
<text x="61.10" y="169.77" font-size="14" text-anchor="start" font-weight="bold" stroke="#000" stroke-width="0.65" >(b)</text>
<rect x="53.90" y="276.60" width="198.70" height="99.10" fill="none" stroke="#1a1a1a" stroke-width="1.1"/>
<line x1="73.77" y1="375.70" x2="73.77" y2="370.70" stroke="#1a1a1a" stroke-width="1.0" />
<line x1="73.77" y1="276.60" x2="73.77" y2="281.60" stroke="#1a1a1a" stroke-width="1.0" />
<line x1="93.64" y1="375.70" x2="93.64" y2="373.10" stroke="#1a1a1a" stroke-width="1.0" />
<line x1="93.64" y1="276.60" x2="93.64" y2="279.20" stroke="#1a1a1a" stroke-width="1.0" />
<line x1="113.51" y1="375.70" x2="113.51" y2="370.70" stroke="#1a1a1a" stroke-width="1.0" />
<line x1="113.51" y1="276.60" x2="113.51" y2="281.60" stroke="#1a1a1a" stroke-width="1.0" />
<line x1="133.38" y1="375.70" x2="133.38" y2="373.10" stroke="#1a1a1a" stroke-width="1.0" />
<line x1="133.38" y1="276.60" x2="133.38" y2="279.20" stroke="#1a1a1a" stroke-width="1.0" />
<line x1="153.25" y1="375.70" x2="153.25" y2="370.70" stroke="#1a1a1a" stroke-width="1.0" />
<line x1="153.25" y1="276.60" x2="153.25" y2="281.60" stroke="#1a1a1a" stroke-width="1.0" />
<line x1="173.12" y1="375.70" x2="173.12" y2="373.10" stroke="#1a1a1a" stroke-width="1.0" />
<line x1="173.12" y1="276.60" x2="173.12" y2="279.20" stroke="#1a1a1a" stroke-width="1.0" />
<line x1="192.99" y1="375.70" x2="192.99" y2="370.70" stroke="#1a1a1a" stroke-width="1.0" />
<line x1="192.99" y1="276.60" x2="192.99" y2="281.60" stroke="#1a1a1a" stroke-width="1.0" />
<line x1="212.86" y1="375.70" x2="212.86" y2="373.10" stroke="#1a1a1a" stroke-width="1.0" />
<line x1="212.86" y1="276.60" x2="212.86" y2="279.20" stroke="#1a1a1a" stroke-width="1.0" />
<line x1="232.73" y1="375.70" x2="232.73" y2="370.70" stroke="#1a1a1a" stroke-width="1.0" />
<line x1="232.73" y1="276.60" x2="232.73" y2="281.60" stroke="#1a1a1a" stroke-width="1.0" />
<text x="73.77" y="387.10" font-size="12" text-anchor="middle" font-weight="normal" stroke="#000" stroke-width="0.25" >-2</text>
<text x="113.51" y="387.10" font-size="12" text-anchor="middle" font-weight="normal" stroke="#000" stroke-width="0.25" >0</text>
<text x="153.25" y="387.10" font-size="12" text-anchor="middle" font-weight="normal" stroke="#000" stroke-width="0.25" >2</text>
<text x="192.99" y="387.10" font-size="12" text-anchor="middle" font-weight="normal" stroke="#000" stroke-width="0.25" >4</text>
<text x="232.73" y="387.10" font-size="12" text-anchor="middle" font-weight="normal" stroke="#000" stroke-width="0.25" >6</text>
<line x1="53.90" y1="367.44" x2="58.90" y2="367.44" stroke="#1a1a1a" stroke-width="1.0" />
<line x1="252.60" y1="367.44" x2="247.60" y2="367.44" stroke="#1a1a1a" stroke-width="1.0" />
<line x1="53.90" y1="326.15" x2="58.90" y2="326.15" stroke="#1a1a1a" stroke-width="1.0" />
<line x1="252.60" y1="326.15" x2="247.60" y2="326.15" stroke="#1a1a1a" stroke-width="1.0" />
<line x1="53.90" y1="284.86" x2="58.90" y2="284.86" stroke="#1a1a1a" stroke-width="1.0" />
<line x1="252.60" y1="284.86" x2="247.60" y2="284.86" stroke="#1a1a1a" stroke-width="1.0" />
<line x1="53.90" y1="359.18" x2="56.70" y2="359.18" stroke="#1a1a1a" stroke-width="1.0" />
<line x1="252.60" y1="359.18" x2="249.40" y2="359.18" stroke="#1a1a1a" stroke-width="1.0" />
<line x1="53.90" y1="350.93" x2="56.70" y2="350.93" stroke="#1a1a1a" stroke-width="1.0" />
<line x1="252.60" y1="350.93" x2="249.40" y2="350.93" stroke="#1a1a1a" stroke-width="1.0" />
<line x1="53.90" y1="342.67" x2="56.70" y2="342.67" stroke="#1a1a1a" stroke-width="1.0" />
<line x1="252.60" y1="342.67" x2="249.40" y2="342.67" stroke="#1a1a1a" stroke-width="1.0" />
<line x1="53.90" y1="334.41" x2="56.70" y2="334.41" stroke="#1a1a1a" stroke-width="1.0" />
<line x1="252.60" y1="334.41" x2="249.40" y2="334.41" stroke="#1a1a1a" stroke-width="1.0" />
<line x1="53.90" y1="317.89" x2="56.70" y2="317.89" stroke="#1a1a1a" stroke-width="1.0" />
<line x1="252.60" y1="317.89" x2="249.40" y2="317.89" stroke="#1a1a1a" stroke-width="1.0" />
<line x1="53.90" y1="309.63" x2="56.70" y2="309.63" stroke="#1a1a1a" stroke-width="1.0" />
<line x1="252.60" y1="309.63" x2="249.40" y2="309.63" stroke="#1a1a1a" stroke-width="1.0" />
<line x1="53.90" y1="301.38" x2="56.70" y2="301.38" stroke="#1a1a1a" stroke-width="1.0" />
<line x1="252.60" y1="301.38" x2="249.40" y2="301.38" stroke="#1a1a1a" stroke-width="1.0" />
<line x1="53.90" y1="293.12" x2="56.70" y2="293.12" stroke="#1a1a1a" stroke-width="1.0" />
<line x1="252.60" y1="293.12" x2="249.40" y2="293.12" stroke="#1a1a1a" stroke-width="1.0" />
<text x="51.90" y="371.04" font-size="12" text-anchor="end" font-weight="normal" stroke="#000" stroke-width="0.25" >0</text>
<text x="51.90" y="329.75" font-size="12" text-anchor="end" font-weight="normal" stroke="#000" stroke-width="0.25" >0.5</text>
<path d="M49.45,279.96 L50.90,279.96 L50.90,288.06 L49.45,288.06 L49.45,282.86 Q48.30,282.96 46.70,282.96 L46.70,281.86 Q48.90,281.76 49.45,279.96 Z" fill="#000"/>
<text x="61.10" y="294.00" font-size="14" text-anchor="start" font-weight="bold" stroke="#000" stroke-width="0.65" >(c)</text>
<rect x="320.80" y="28.45" width="198.70" height="99.00" fill="none" stroke="#1a1a1a" stroke-width="1.1"/>
<line x1="340.67" y1="127.45" x2="340.67" y2="122.45" stroke="#1a1a1a" stroke-width="1.0" />
<line x1="340.67" y1="28.45" x2="340.67" y2="33.45" stroke="#1a1a1a" stroke-width="1.0" />
<line x1="360.54" y1="127.45" x2="360.54" y2="124.85" stroke="#1a1a1a" stroke-width="1.0" />
<line x1="360.54" y1="28.45" x2="360.54" y2="31.05" stroke="#1a1a1a" stroke-width="1.0" />
<line x1="380.41" y1="127.45" x2="380.41" y2="122.45" stroke="#1a1a1a" stroke-width="1.0" />
<line x1="380.41" y1="28.45" x2="380.41" y2="33.45" stroke="#1a1a1a" stroke-width="1.0" />
<line x1="400.28" y1="127.45" x2="400.28" y2="124.85" stroke="#1a1a1a" stroke-width="1.0" />
<line x1="400.28" y1="28.45" x2="400.28" y2="31.05" stroke="#1a1a1a" stroke-width="1.0" />
<line x1="420.15" y1="127.45" x2="420.15" y2="122.45" stroke="#1a1a1a" stroke-width="1.0" />
<line x1="420.15" y1="28.45" x2="420.15" y2="33.45" stroke="#1a1a1a" stroke-width="1.0" />
<line x1="440.02" y1="127.45" x2="440.02" y2="124.85" stroke="#1a1a1a" stroke-width="1.0" />
<line x1="440.02" y1="28.45" x2="440.02" y2="31.05" stroke="#1a1a1a" stroke-width="1.0" />
<line x1="459.89" y1="127.45" x2="459.89" y2="122.45" stroke="#1a1a1a" stroke-width="1.0" />
<line x1="459.89" y1="28.45" x2="459.89" y2="33.45" stroke="#1a1a1a" stroke-width="1.0" />
<line x1="479.76" y1="127.45" x2="479.76" y2="124.85" stroke="#1a1a1a" stroke-width="1.0" />
<line x1="479.76" y1="28.45" x2="479.76" y2="31.05" stroke="#1a1a1a" stroke-width="1.0" />
<line x1="499.63" y1="127.45" x2="499.63" y2="122.45" stroke="#1a1a1a" stroke-width="1.0" />
<line x1="499.63" y1="28.45" x2="499.63" y2="33.45" stroke="#1a1a1a" stroke-width="1.0" />
<text x="340.67" y="138.85" font-size="12" text-anchor="middle" font-weight="normal" stroke="#000" stroke-width="0.25" >-2</text>
<text x="380.41" y="138.85" font-size="12" text-anchor="middle" font-weight="normal" stroke="#000" stroke-width="0.25" >0</text>
<text x="420.15" y="138.85" font-size="12" text-anchor="middle" font-weight="normal" stroke="#000" stroke-width="0.25" >2</text>
<text x="459.89" y="138.85" font-size="12" text-anchor="middle" font-weight="normal" stroke="#000" stroke-width="0.25" >4</text>
<text x="499.63" y="138.85" font-size="12" text-anchor="middle" font-weight="normal" stroke="#000" stroke-width="0.25" >6</text>
<line x1="320.80" y1="119.20" x2="325.80" y2="119.20" stroke="#1a1a1a" stroke-width="1.0" />
<line x1="519.50" y1="119.20" x2="514.50" y2="119.20" stroke="#1a1a1a" stroke-width="1.0" />
<line x1="320.80" y1="77.95" x2="325.80" y2="77.95" stroke="#1a1a1a" stroke-width="1.0" />
<line x1="519.50" y1="77.95" x2="514.50" y2="77.95" stroke="#1a1a1a" stroke-width="1.0" />
<line x1="320.80" y1="36.70" x2="325.80" y2="36.70" stroke="#1a1a1a" stroke-width="1.0" />
<line x1="519.50" y1="36.70" x2="514.50" y2="36.70" stroke="#1a1a1a" stroke-width="1.0" />
<line x1="320.80" y1="110.95" x2="323.60" y2="110.95" stroke="#1a1a1a" stroke-width="1.0" />
<line x1="519.50" y1="110.95" x2="516.30" y2="110.95" stroke="#1a1a1a" stroke-width="1.0" />
<line x1="320.80" y1="102.70" x2="323.60" y2="102.70" stroke="#1a1a1a" stroke-width="1.0" />
<line x1="519.50" y1="102.70" x2="516.30" y2="102.70" stroke="#1a1a1a" stroke-width="1.0" />
<line x1="320.80" y1="94.45" x2="323.60" y2="94.45" stroke="#1a1a1a" stroke-width="1.0" />
<line x1="519.50" y1="94.45" x2="516.30" y2="94.45" stroke="#1a1a1a" stroke-width="1.0" />
<line x1="320.80" y1="86.20" x2="323.60" y2="86.20" stroke="#1a1a1a" stroke-width="1.0" />
<line x1="519.50" y1="86.20" x2="516.30" y2="86.20" stroke="#1a1a1a" stroke-width="1.0" />
<line x1="320.80" y1="69.70" x2="323.60" y2="69.70" stroke="#1a1a1a" stroke-width="1.0" />
<line x1="519.50" y1="69.70" x2="516.30" y2="69.70" stroke="#1a1a1a" stroke-width="1.0" />
<line x1="320.80" y1="61.45" x2="323.60" y2="61.45" stroke="#1a1a1a" stroke-width="1.0" />
<line x1="519.50" y1="61.45" x2="516.30" y2="61.45" stroke="#1a1a1a" stroke-width="1.0" />
<line x1="320.80" y1="53.20" x2="323.60" y2="53.20" stroke="#1a1a1a" stroke-width="1.0" />
<line x1="519.50" y1="53.20" x2="516.30" y2="53.20" stroke="#1a1a1a" stroke-width="1.0" />
<line x1="320.80" y1="44.95" x2="323.60" y2="44.95" stroke="#1a1a1a" stroke-width="1.0" />
<line x1="519.50" y1="44.95" x2="516.30" y2="44.95" stroke="#1a1a1a" stroke-width="1.0" />
<text x="318.80" y="122.80" font-size="12" text-anchor="end" font-weight="normal" stroke="#000" stroke-width="0.25" >0</text>
<text x="318.80" y="81.55" font-size="12" text-anchor="end" font-weight="normal" stroke="#000" stroke-width="0.25" >0.5</text>
<path d="M316.35,31.80 L317.80,31.80 L317.80,39.90 L316.35,39.90 L316.35,34.70 Q315.20,34.80 313.60,34.80 L313.60,33.70 Q315.80,33.60 316.35,31.80 Z" fill="#000"/>
<rect x="327.80" y="31.55" width="24.50" height="18" fill="#fff"/>
<text x="328.00" y="45.85" font-size="14" text-anchor="start" font-weight="bold" stroke="#000" stroke-width="0.65" >(a’)</text>
<rect x="320.80" y="152.37" width="198.70" height="99.23" fill="none" stroke="#1a1a1a" stroke-width="1.1"/>
<line x1="340.67" y1="251.60" x2="340.67" y2="246.60" stroke="#1a1a1a" stroke-width="1.0" />
<line x1="340.67" y1="152.37" x2="340.67" y2="157.37" stroke="#1a1a1a" stroke-width="1.0" />
<line x1="360.54" y1="251.60" x2="360.54" y2="249.00" stroke="#1a1a1a" stroke-width="1.0" />
<line x1="360.54" y1="152.37" x2="360.54" y2="154.97" stroke="#1a1a1a" stroke-width="1.0" />
<line x1="380.41" y1="251.60" x2="380.41" y2="246.60" stroke="#1a1a1a" stroke-width="1.0" />
<line x1="380.41" y1="152.37" x2="380.41" y2="157.37" stroke="#1a1a1a" stroke-width="1.0" />
<line x1="400.28" y1="251.60" x2="400.28" y2="249.00" stroke="#1a1a1a" stroke-width="1.0" />
<line x1="400.28" y1="152.37" x2="400.28" y2="154.97" stroke="#1a1a1a" stroke-width="1.0" />
<line x1="420.15" y1="251.60" x2="420.15" y2="246.60" stroke="#1a1a1a" stroke-width="1.0" />
<line x1="420.15" y1="152.37" x2="420.15" y2="157.37" stroke="#1a1a1a" stroke-width="1.0" />
<line x1="440.02" y1="251.60" x2="440.02" y2="249.00" stroke="#1a1a1a" stroke-width="1.0" />
<line x1="440.02" y1="152.37" x2="440.02" y2="154.97" stroke="#1a1a1a" stroke-width="1.0" />
<line x1="459.89" y1="251.60" x2="459.89" y2="246.60" stroke="#1a1a1a" stroke-width="1.0" />
<line x1="459.89" y1="152.37" x2="459.89" y2="157.37" stroke="#1a1a1a" stroke-width="1.0" />
<line x1="479.76" y1="251.60" x2="479.76" y2="249.00" stroke="#1a1a1a" stroke-width="1.0" />
<line x1="479.76" y1="152.37" x2="479.76" y2="154.97" stroke="#1a1a1a" stroke-width="1.0" />
<line x1="499.63" y1="251.60" x2="499.63" y2="246.60" stroke="#1a1a1a" stroke-width="1.0" />
<line x1="499.63" y1="152.37" x2="499.63" y2="157.37" stroke="#1a1a1a" stroke-width="1.0" />
<text x="340.67" y="263.00" font-size="12" text-anchor="middle" font-weight="normal" stroke="#000" stroke-width="0.25" >-2</text>
<text x="380.41" y="263.00" font-size="12" text-anchor="middle" font-weight="normal" stroke="#000" stroke-width="0.25" >0</text>
<text x="420.15" y="263.00" font-size="12" text-anchor="middle" font-weight="normal" stroke="#000" stroke-width="0.25" >2</text>
<text x="459.89" y="263.00" font-size="12" text-anchor="middle" font-weight="normal" stroke="#000" stroke-width="0.25" >4</text>
<text x="499.63" y="263.00" font-size="12" text-anchor="middle" font-weight="normal" stroke="#000" stroke-width="0.25" >6</text>
<line x1="320.80" y1="238.88" x2="325.80" y2="238.88" stroke="#1a1a1a" stroke-width="1.0" />
<line x1="519.50" y1="238.88" x2="514.50" y2="238.88" stroke="#1a1a1a" stroke-width="1.0" />
<line x1="320.80" y1="200.71" x2="325.80" y2="200.71" stroke="#1a1a1a" stroke-width="1.0" />
<line x1="519.50" y1="200.71" x2="514.50" y2="200.71" stroke="#1a1a1a" stroke-width="1.0" />
<line x1="320.80" y1="162.55" x2="325.80" y2="162.55" stroke="#1a1a1a" stroke-width="1.0" />
<line x1="519.50" y1="162.55" x2="514.50" y2="162.55" stroke="#1a1a1a" stroke-width="1.0" />
<line x1="320.80" y1="226.16" x2="323.60" y2="226.16" stroke="#1a1a1a" stroke-width="1.0" />
<line x1="519.50" y1="226.16" x2="516.30" y2="226.16" stroke="#1a1a1a" stroke-width="1.0" />
<line x1="320.80" y1="213.43" x2="323.60" y2="213.43" stroke="#1a1a1a" stroke-width="1.0" />
<line x1="519.50" y1="213.43" x2="516.30" y2="213.43" stroke="#1a1a1a" stroke-width="1.0" />
<line x1="320.80" y1="187.99" x2="323.60" y2="187.99" stroke="#1a1a1a" stroke-width="1.0" />
<line x1="519.50" y1="187.99" x2="516.30" y2="187.99" stroke="#1a1a1a" stroke-width="1.0" />
<line x1="320.80" y1="175.27" x2="323.60" y2="175.27" stroke="#1a1a1a" stroke-width="1.0" />
<line x1="519.50" y1="175.27" x2="516.30" y2="175.27" stroke="#1a1a1a" stroke-width="1.0" />
<text x="318.80" y="242.48" font-size="12" text-anchor="end" font-weight="normal" stroke="#000" stroke-width="0.25" >0</text>
<text x="318.80" y="204.31" font-size="12" text-anchor="end" font-weight="normal" stroke="#000" stroke-width="0.25" >30</text>
<text x="318.80" y="166.15" font-size="12" text-anchor="end" font-weight="normal" stroke="#000" stroke-width="0.25" >60</text>
<text x="328.00" y="169.77" font-size="14" text-anchor="start" font-weight="bold" stroke="#000" stroke-width="0.65" >(b’)</text>
<rect x="320.80" y="276.60" width="198.70" height="99.10" fill="none" stroke="#1a1a1a" stroke-width="1.1"/>
<line x1="340.67" y1="375.70" x2="340.67" y2="370.70" stroke="#1a1a1a" stroke-width="1.0" />
<line x1="340.67" y1="276.60" x2="340.67" y2="281.60" stroke="#1a1a1a" stroke-width="1.0" />
<line x1="360.54" y1="375.70" x2="360.54" y2="373.10" stroke="#1a1a1a" stroke-width="1.0" />
<line x1="360.54" y1="276.60" x2="360.54" y2="279.20" stroke="#1a1a1a" stroke-width="1.0" />
<line x1="380.41" y1="375.70" x2="380.41" y2="370.70" stroke="#1a1a1a" stroke-width="1.0" />
<line x1="380.41" y1="276.60" x2="380.41" y2="281.60" stroke="#1a1a1a" stroke-width="1.0" />
<line x1="400.28" y1="375.70" x2="400.28" y2="373.10" stroke="#1a1a1a" stroke-width="1.0" />
<line x1="400.28" y1="276.60" x2="400.28" y2="279.20" stroke="#1a1a1a" stroke-width="1.0" />
<line x1="420.15" y1="375.70" x2="420.15" y2="370.70" stroke="#1a1a1a" stroke-width="1.0" />
<line x1="420.15" y1="276.60" x2="420.15" y2="281.60" stroke="#1a1a1a" stroke-width="1.0" />
<line x1="440.02" y1="375.70" x2="440.02" y2="373.10" stroke="#1a1a1a" stroke-width="1.0" />
<line x1="440.02" y1="276.60" x2="440.02" y2="279.20" stroke="#1a1a1a" stroke-width="1.0" />
<line x1="459.89" y1="375.70" x2="459.89" y2="370.70" stroke="#1a1a1a" stroke-width="1.0" />
<line x1="459.89" y1="276.60" x2="459.89" y2="281.60" stroke="#1a1a1a" stroke-width="1.0" />
<line x1="479.76" y1="375.70" x2="479.76" y2="373.10" stroke="#1a1a1a" stroke-width="1.0" />
<line x1="479.76" y1="276.60" x2="479.76" y2="279.20" stroke="#1a1a1a" stroke-width="1.0" />
<line x1="499.63" y1="375.70" x2="499.63" y2="370.70" stroke="#1a1a1a" stroke-width="1.0" />
<line x1="499.63" y1="276.60" x2="499.63" y2="281.60" stroke="#1a1a1a" stroke-width="1.0" />
<text x="340.67" y="387.10" font-size="12" text-anchor="middle" font-weight="normal" stroke="#000" stroke-width="0.25" >-2</text>
<text x="380.41" y="387.10" font-size="12" text-anchor="middle" font-weight="normal" stroke="#000" stroke-width="0.25" >0</text>
<text x="420.15" y="387.10" font-size="12" text-anchor="middle" font-weight="normal" stroke="#000" stroke-width="0.25" >2</text>
<text x="459.89" y="387.10" font-size="12" text-anchor="middle" font-weight="normal" stroke="#000" stroke-width="0.25" >4</text>
<text x="499.63" y="387.10" font-size="12" text-anchor="middle" font-weight="normal" stroke="#000" stroke-width="0.25" >6</text>
<line x1="320.80" y1="367.44" x2="325.80" y2="367.44" stroke="#1a1a1a" stroke-width="1.0" />
<line x1="519.50" y1="367.44" x2="514.50" y2="367.44" stroke="#1a1a1a" stroke-width="1.0" />
<line x1="320.80" y1="326.15" x2="325.80" y2="326.15" stroke="#1a1a1a" stroke-width="1.0" />
<line x1="519.50" y1="326.15" x2="514.50" y2="326.15" stroke="#1a1a1a" stroke-width="1.0" />
<line x1="320.80" y1="284.86" x2="325.80" y2="284.86" stroke="#1a1a1a" stroke-width="1.0" />
<line x1="519.50" y1="284.86" x2="514.50" y2="284.86" stroke="#1a1a1a" stroke-width="1.0" />
<line x1="320.80" y1="359.18" x2="323.60" y2="359.18" stroke="#1a1a1a" stroke-width="1.0" />
<line x1="519.50" y1="359.18" x2="516.30" y2="359.18" stroke="#1a1a1a" stroke-width="1.0" />
<line x1="320.80" y1="350.93" x2="323.60" y2="350.93" stroke="#1a1a1a" stroke-width="1.0" />
<line x1="519.50" y1="350.93" x2="516.30" y2="350.93" stroke="#1a1a1a" stroke-width="1.0" />
<line x1="320.80" y1="342.67" x2="323.60" y2="342.67" stroke="#1a1a1a" stroke-width="1.0" />
<line x1="519.50" y1="342.67" x2="516.30" y2="342.67" stroke="#1a1a1a" stroke-width="1.0" />
<line x1="320.80" y1="334.41" x2="323.60" y2="334.41" stroke="#1a1a1a" stroke-width="1.0" />
<line x1="519.50" y1="334.41" x2="516.30" y2="334.41" stroke="#1a1a1a" stroke-width="1.0" />
<line x1="320.80" y1="317.89" x2="323.60" y2="317.89" stroke="#1a1a1a" stroke-width="1.0" />
<line x1="519.50" y1="317.89" x2="516.30" y2="317.89" stroke="#1a1a1a" stroke-width="1.0" />
<line x1="320.80" y1="309.63" x2="323.60" y2="309.63" stroke="#1a1a1a" stroke-width="1.0" />
<line x1="519.50" y1="309.63" x2="516.30" y2="309.63" stroke="#1a1a1a" stroke-width="1.0" />
<line x1="320.80" y1="301.38" x2="323.60" y2="301.38" stroke="#1a1a1a" stroke-width="1.0" />
<line x1="519.50" y1="301.38" x2="516.30" y2="301.38" stroke="#1a1a1a" stroke-width="1.0" />
<line x1="320.80" y1="293.12" x2="323.60" y2="293.12" stroke="#1a1a1a" stroke-width="1.0" />
<line x1="519.50" y1="293.12" x2="516.30" y2="293.12" stroke="#1a1a1a" stroke-width="1.0" />
<text x="318.80" y="371.04" font-size="12" text-anchor="end" font-weight="normal" stroke="#000" stroke-width="0.25" >0</text>
<text x="318.80" y="329.75" font-size="12" text-anchor="end" font-weight="normal" stroke="#000" stroke-width="0.25" >0.5</text>
<path d="M316.35,279.96 L317.80,279.96 L317.80,288.06 L316.35,288.06 L316.35,282.86 Q315.20,282.96 313.60,282.96 L313.60,281.86 Q315.80,281.76 316.35,279.96 Z" fill="#000"/>
<text x="328.00" y="294.00" font-size="14" text-anchor="start" font-weight="bold" stroke="#000" stroke-width="0.65" >(c’)</text>
<text x="110.90" y="13.30" font-size="18" text-anchor="start" font-weight="normal" stroke="#000" stroke-width="0.45" >Simulation</text>
<line x1="110.60" y1="16.00" x2="195.80" y2="16.00" stroke="#111" stroke-width="1.5" />
<text x="374.30" y="13.30" font-size="18" text-anchor="start" font-weight="normal" stroke="#000" stroke-width="0.45" >Experiment</text>
<line x1="373.80" y1="16.00" x2="465.90" y2="16.00" stroke="#111" stroke-width="1.5" />
<text transform="translate(9.60,76.75) rotate(-90)" font-size="12.68" text-anchor="middle" stroke="#000" stroke-width="0.25">Normalized current</text>
<text transform="translate(25.00,76.95) rotate(-90)" font-size="12.68" text-anchor="middle" stroke="#000" stroke-width="0.25">and magnetic field</text>
<text transform="translate(9.60,201.99) rotate(-90)" font-size="12.5" text-anchor="middle" stroke="#000" stroke-width="0.25">LNI-REBCO coil</text>
<text transform="translate(25.00,201.69) rotate(-90)" font-size="12.5" text-anchor="middle" stroke="#000" stroke-width="0.25">voltage, <tspan font-style="italic">V</tspan><tspan font-size="8.5" dy="2.5">re</tspan><tspan dy="-2.5"> (V)</tspan></text>
<text transform="translate(9.60,326.75) rotate(-90)" font-size="12.75" text-anchor="middle" stroke="#000" stroke-width="0.25">Bypass ratio, <tspan font-style="italic">η</tspan></text>
<text x="153.25" y="405.60" font-size="12" text-anchor="middle" font-weight="normal" stroke="#000" stroke-width="0.25" >Time, <tspan font-style="italic">t</tspan> (s)</text>
<text transform="translate(279.90,76.75) rotate(-90)" font-size="12.68" text-anchor="middle" stroke="#000" stroke-width="0.25">Normalized current</text>
<text transform="translate(295.30,76.95) rotate(-90)" font-size="12.68" text-anchor="middle" stroke="#000" stroke-width="0.25">and magnetic field</text>
<text transform="translate(279.90,201.99) rotate(-90)" font-size="12.5" text-anchor="middle" stroke="#000" stroke-width="0.25">LNI-REBCO coil</text>
<text transform="translate(295.30,201.69) rotate(-90)" font-size="12.5" text-anchor="middle" stroke="#000" stroke-width="0.25">voltage, <tspan font-style="italic">V</tspan><tspan font-size="8.5" dy="2.5">re</tspan><tspan dy="-2.5"> (V)</tspan></text>
<text transform="translate(279.90,326.75) rotate(-90)" font-size="12.75" text-anchor="middle" stroke="#000" stroke-width="0.25">Bypass ratio, <tspan font-style="italic">η</tspan></text>
<text x="420.15" y="405.60" font-size="12" text-anchor="middle" font-weight="normal" stroke="#000" stroke-width="0.25" >Time, <tspan font-style="italic">t</tspan> (s)</text>
<line x1="160.60" y1="46.30" x2="186.90" y2="46.30" stroke="#ff2a2a" stroke-width="1.2" />
<line x1="160.70" y1="60.80" x2="187.20" y2="60.80" stroke="#ff2a2a" stroke-width="1.2"  stroke-dasharray="1.4 1.2 5.4 1.0"/>
<line x1="163.50" y1="75.50" x2="186.90" y2="75.50" stroke="#3030ff" stroke-width="1.2"  stroke-dasharray="5.4 3.2"/>
<line x1="160.40" y1="90.30" x2="187.20" y2="90.30" stroke="#000" stroke-width="1.3"  stroke-dasharray="1.8 1.0 5.4 0.8"/>
<text x="199.20" y="48.90" font-size="12.5" text-anchor="start" font-weight="normal" stroke="#000" stroke-width="0.25" ><tspan font-style="italic">I</tspan><tspan font-size="8.5" dy="3.2">re</tspan></text>
<path d="M199.70,37.90 L201.40,36.50 L203.10,37.90" fill="none" stroke="#000" stroke-width="1.15"/>
<text x="198.20" y="64.70" font-size="12.5" text-anchor="start" font-weight="normal" stroke="#000" stroke-width="0.25" ><tspan font-style="italic">B</tspan><tspan font-size="8.5" dy="3.3">top-re</tspan></text>
<path d="M199.70,53.60 L201.40,52.20 L203.10,53.60" fill="none" stroke="#000" stroke-width="1.15"/>
<text x="198.20" y="80.40" font-size="12.5" text-anchor="start" font-weight="normal" stroke="#000" stroke-width="0.25" ><tspan font-style="italic">B</tspan><tspan font-size="8.5" dy="3.3">cen-re</tspan></text>
<path d="M199.70,69.30 L201.40,67.90 L203.10,69.30" fill="none" stroke="#000" stroke-width="1.15"/>
<text x="198.20" y="96.80" font-size="12.5" text-anchor="start" font-weight="normal" stroke="#000" stroke-width="0.25" ><tspan font-style="italic">B</tspan><tspan font-size="8.5" dy="3.3">bot-re</tspan></text>
<path d="M199.70,85.70 L201.40,84.30 L203.10,85.70" fill="none" stroke="#000" stroke-width="1.15"/>
<line x1="432.00" y1="46.30" x2="458.30" y2="46.30" stroke="#ff2a2a" stroke-width="1.2" />
<line x1="432.10" y1="60.80" x2="458.60" y2="60.80" stroke="#ff2a2a" stroke-width="1.2"  stroke-dasharray="1.4 1.2 5.4 1.0"/>
<line x1="434.90" y1="75.50" x2="458.30" y2="75.50" stroke="#3030ff" stroke-width="1.2"  stroke-dasharray="5.4 3.2"/>
<line x1="431.80" y1="90.30" x2="458.60" y2="90.30" stroke="#000" stroke-width="1.3"  stroke-dasharray="1.8 1.0 5.4 0.8"/>
<text x="471.00" y="48.90" font-size="12.5" text-anchor="start" font-weight="normal" stroke="#000" stroke-width="0.25" ><tspan font-style="italic">I</tspan><tspan font-size="8.5" dy="3.2">re</tspan></text>
<path d="M471.50,37.90 L473.20,36.50 L474.90,37.90" fill="none" stroke="#000" stroke-width="1.15"/>
<text x="470.00" y="64.70" font-size="12.5" text-anchor="start" font-weight="normal" stroke="#000" stroke-width="0.25" ><tspan font-style="italic">B</tspan><tspan font-size="8.5" dy="3.3">top-re</tspan></text>
<path d="M471.50,53.60 L473.20,52.20 L474.90,53.60" fill="none" stroke="#000" stroke-width="1.15"/>
<text x="470.00" y="80.40" font-size="12.5" text-anchor="start" font-weight="normal" stroke="#000" stroke-width="0.25" ><tspan font-style="italic">B</tspan><tspan font-size="8.5" dy="3.3">cen-re</tspan></text>
<path d="M471.50,69.30 L473.20,67.90 L474.90,69.30" fill="none" stroke="#000" stroke-width="1.15"/>
<text x="470.00" y="96.80" font-size="12.5" text-anchor="start" font-weight="normal" stroke="#000" stroke-width="0.25" ><tspan font-style="italic">B</tspan><tspan font-size="8.5" dy="3.3">bot-re</tspan></text>
<path d="M471.50,85.70 L473.20,84.30 L474.90,85.70" fill="none" stroke="#000" stroke-width="1.15"/>
</svg></body></html>
